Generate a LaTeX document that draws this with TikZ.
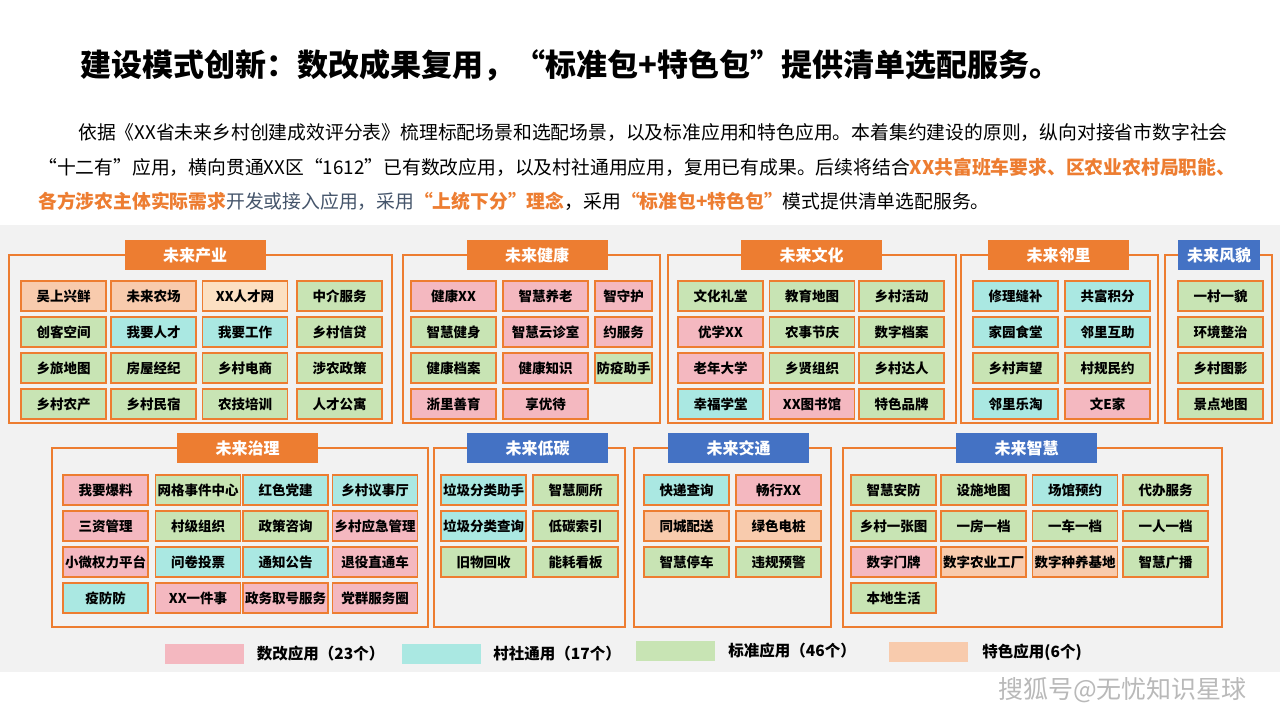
\documentclass[tikz,border=0pt]{standalone}
\usepackage{fontspec}
\setmainfont{Noto Sans CJK SC}
\usepackage{tikz}
\usetikzlibrary{positioning}
\definecolor{brand}{RGB}{237,125,49}
\definecolor{blueh}{RGB}{68,114,196}
\definecolor{reformpink}{RGB}{244,184,192}
\definecolor{sharedcyan}{RGB}{170,232,226}
\definecolor{stdgreen}{RGB}{200,228,180}
\definecolor{featpeach}{RGB}{248,203,173}
\definecolor{featlight}{RGB}{252,224,194}
\definecolor{panel}{RGB}{242,242,242}
\definecolor{slate}{RGB}{68,84,106}
\newcommand{\hot}[1]{\textcolor{brand}{\bfseries #1}}

\begin{document}
\begin{tikzpicture}[
  x=1pt,y=-1pt,
  app/.style={rectangle,draw=brand,line width=1.3pt,minimum width=85pt,minimum height=30pt,
              inner sep=0pt,font=\fontsize{13.5}{14}\selectfont\bfseries},
  slim/.style={minimum width=57pt},
  reform/.style={fill=reformpink},
  shared/.style={fill=sharedcyan},
  standard/.style={fill=stdgreen},
  featured/.style={fill=featpeach},
  head/.style={rectangle,fill=brand,text=white,minimum width=141pt,minimum height=30pt,
               inner sep=0pt,font=\fontsize{16}{18}\selectfont\bfseries},
  headb/.style={head,fill=blueh},
  frame/.style={draw=brand,line width=1.2pt},
  swatch/.style={rectangle,minimum width=79pt,minimum height=20pt,inner sep=0pt},
  keytext/.style={inner sep=0pt,font=\fontsize{15.5}{17}\selectfont\bfseries}
]
\useasboundingbox (0,0) rectangle (1280,720);
\fill[white] (0,0) rectangle (1280,720);
\fill[panel] (0,225) rectangle (1280,672);

% title and lead text
\node[anchor=west,inner sep=0pt,font=\fontsize{31}{34}\selectfont\bfseries] (title) at (80,65)
  {建设模式创新：数改成果复用，“标准包+特色包”提供清单选配服务。};
\node[anchor=west,inner sep=0pt,font=\fontsize{18.8}{22}\selectfont] (par1) at (78,133)
  {依据《XX省未来乡村创建成效评分表》梳理标配场景和选配场景，以及标准应用和特色应用。本着集约建设的原则，纵向对接省市数字社会};
\node[anchor=west,inner sep=0pt,font=\fontsize{18.8}{22}\selectfont] (par2) at (38,167)
  {“十二有”应用，横向贯通XX区“1612”已有数改应用，以及村社通用应用，复用已有成果。后续将结合\hot{XX共富班车要求、区农业农村局职能、}};
\node[anchor=west,inner sep=0pt,font=\fontsize{18.8}{22}\selectfont] (par3) at (38,201)
  {\hot{各方涉农主体实际需求}\textcolor{slate}{开发或接入应用，采用}\hot{“上统下分”理念}，采用\hot{“标准包+特色包”}模式提供清单选配服务。};

% frames
\draw[frame] (9,255) rectangle (392,423);
\draw[frame] (403,255) rectangle (660,423);
\draw[frame] (668,255) rectangle (956,423);
\draw[frame] (961,255) rectangle (1158,423);
\draw[frame] (1165,255) rectangle (1272,423);
\draw[frame] (52,448) rectangle (428,627);
\draw[frame] (434,448) rectangle (625,627);
\draw[frame] (634,448) rectangle (831,627);
\draw[frame] (843,448) rectangle (1222,627);

% headers
\node[head] (cyH) at (195,255) {未来产业};
\node[head] (jkH) at (537,255) {未来健康};
\node[head] (whH) at (811.5,255) {未来文化};
\node[head] (llH) at (1058.5,255) {未来邻里};
\node[headb,minimum width=82pt] (fmH) at (1219,255) {未来风貌};
\node[head] (zlH) at (247.5,448) {未来治理};
\node[headb] (dtH) at (537.5,448) {未来低碳};
\node[headb] (jtH) at (738.5,448) {未来交通};
\node[headb] (zhH) at (1026.5,448) {未来智慧};

% 未来产业
\node[app,featured] (cy11) at (63.5,296) {吴上兴鲜};
\node[app,featured] (cy12) at (153.5,296) {未来农场};
\node[app,fill=featlight] (cy13) at (245,296) {XX人才网};
\node[app,standard] (cy14) at (339.5,296) {中介服务};
\node[app,standard] (cy21) at (63.5,332) {创客空间};
\node[app,shared] (cy22) at (153.5,332) {我要人才};
\node[app,shared] (cy23) at (245,332) {我要工作};
\node[app,standard] (cy24) at (339.5,332) {乡村信贷};
\node[app,standard] (cy31) at (63.5,368) {乡旅地图};
\node[app,standard] (cy32) at (153.5,368) {房屋经纪};
\node[app,standard] (cy33) at (245,368) {乡村电商};
\node[app,standard] (cy34) at (339.5,368) {涉农政策};
\node[app,standard] (cy41) at (63.5,404) {乡村农产};
\node[app,standard] (cy42) at (153.5,404) {乡村民宿};
\node[app,standard] (cy43) at (245,404) {农技培训};
\node[app,standard] (cy44) at (339.5,404) {人才公寓};

% 未来健康
\node[app,reform] (jk11) at (453.5,296) {健康XX};
\node[app,reform] (jk12) at (545.5,296) {智慧养老};
\node[app,reform,slim] (jk13) at (623.5,296) {智守护};
\node[app,standard] (jk21) at (453.5,332) {智慧健身};
\node[app,reform] (jk22) at (545.5,332) {智慧云诊室};
\node[app,reform,slim] (jk23) at (623.5,332) {约服务};
\node[app,standard] (jk31) at (453.5,368) {健康档案};
\node[app,reform] (jk32) at (545.5,368) {健康知识};
\node[app,standard,slim] (jk33) at (623.5,368) {防疫助手};
\node[app,reform] (jk41) at (453.5,404) {浙里善育};
\node[app,reform] (jk42) at (545.5,404) {享优待};

% 未来文化
\node[app,standard] (wh11) at (720.5,296) {文化礼堂};
\node[app,standard] (wh12) at (812,296) {教育地图};
\node[app,standard] (wh13) at (901.5,296) {乡村活动};
\node[app,reform] (wh21) at (720.5,332) {优学XX};
\node[app,standard] (wh22) at (812,332) {农事节庆};
\node[app,standard] (wh23) at (901.5,332) {数字档案};
\node[app,reform] (wh31) at (720.5,368) {老年大学};
\node[app,standard] (wh32) at (812,368) {乡贤组织};
\node[app,standard] (wh33) at (901.5,368) {乡村达人};
\node[app,shared] (wh41) at (720.5,404) {幸福学堂};
\node[app,reform] (wh42) at (812,404) {XX图书馆};
\node[app,standard] (wh43) at (901.5,404) {特色品牌};

% 未来邻里
\node[app,shared] (ll11) at (1015.5,296) {修理缝补};
\node[app,shared] (ll12) at (1107.5,296) {共富积分};
\node[app,shared] (ll21) at (1015.5,332) {家园食堂};
\node[app,shared] (ll22) at (1107.5,332) {邻里互助};
\node[app,standard] (ll31) at (1015.5,368) {乡村声望};
\node[app,standard] (ll32) at (1107.5,368) {村规民约};
\node[app,shared] (ll41) at (1015.5,404) {邻里乐淘};
\node[app,reform] (ll42) at (1107.5,404) {文E家};

% 未来风貌
\node[app,standard] (fm1) at (1220.5,296) {一村一貌};
\node[app,standard] (fm2) at (1220.5,332) {环境整治};
\node[app,standard] (fm3) at (1220.5,368) {乡村图影};
\node[app,standard] (fm4) at (1220.5,404) {景点地图};

% 未来治理
\node[app,reform] (zl11) at (105.5,490) {我要爆料};
\node[app,standard] (zl12) at (198,490) {网格事件中心};
\node[app,shared] (zl13) at (285.5,490) {红色党建};
\node[app,shared] (zl14) at (375,490) {乡村议事厅};
\node[app,reform] (zl21) at (105.5,526) {三资管理};
\node[app,standard] (zl22) at (198,526) {村级组织};
\node[app,standard] (zl23) at (285.5,526) {政策咨询};
\node[app,reform] (zl24) at (375,526) {乡村应急管理};
\node[app,reform] (zl31) at (105.5,562) {小微权力平台};
\node[app,shared] (zl32) at (198,562) {问卷投票};
\node[app,shared] (zl33) at (285.5,562) {通知公告};
\node[app,reform] (zl34) at (375,562) {退役直通车};
\node[app,shared] (zl41) at (105.5,598) {疫防防};
\node[app,reform] (zl42) at (198,598) {XX一件事};
\node[app,reform] (zl43) at (285.5,598) {政务取号服务};
\node[app,reform] (zl44) at (375,598) {党群服务圈};

% 未来低碳
\node[app,shared] (dt11) at (483.5,490) {垃圾分类助手};
\node[app,standard] (dt12) at (575.5,490) {智慧厕所};
\node[app,shared] (dt21) at (483.5,526) {垃圾分类查询};
\node[app,standard] (dt22) at (575.5,526) {低碳索引};
\node[app,standard] (dt31) at (483.5,562) {旧物回收};
\node[app,standard] (dt32) at (575.5,562) {能耗看板};

% 未来交通
\node[app,shared] (jt11) at (686.5,490) {快递查询};
\node[app,reform] (jt12) at (778.5,490) {畅行XX};
\node[app,featured] (jt21) at (686.5,526) {同城配送};
\node[app,featured] (jt22) at (778.5,526) {绿色电桩};
\node[app,standard] (jt31) at (686.5,562) {智慧停车};
\node[app,standard] (jt32) at (778.5,562) {违规预警};

% 未来智慧
\node[app,standard] (zh11) at (893.5,490) {智慧安防};
\node[app,standard] (zh12) at (983.5,490) {设施地图};
\node[app,shared] (zh13) at (1075,490) {场馆预约};
\node[app,standard] (zh14) at (1165.5,490) {代办服务};
\node[app,standard] (zh21) at (893.5,526) {乡村一张图};
\node[app,standard] (zh22) at (983.5,526) {一房一档};
\node[app,standard] (zh23) at (1075,526) {一车一档};
\node[app,standard] (zh24) at (1165.5,526) {一人一档};
\node[app,reform] (zh31) at (893.5,562) {数字门牌};
\node[app,featured] (zh32) at (983.5,562) {数字农业工厂};
\node[app,featured] (zh33) at (1075,562) {数字种养基地};
\node[app,standard] (zh34) at (1165.5,562) {智慧广播};
\node[app,standard] (zh41) at (893.5,598) {本地生活};

% legend
\node[swatch,reform] (lg1) at (204,653.5) {};
\node[keytext,right=13pt of lg1] (lt1) {数改应用（23个）};
\node[swatch,shared] (lg2) at (441.5,653.5) {};
\node[keytext,right=12pt of lg2] (lt2) {村社通用（17个）};
\node[swatch,standard] (lg3) at (675.5,650.5) {};
\node[keytext,right=13pt of lg3] (lt3) {标准应用（46个）};
\node[swatch,featured] (lg4) at (928.5,652) {};
\node[keytext,right=14pt of lg4] (lt4) {特色应用(6个)};

\node[anchor=west,inner sep=0pt,text=gray!55,font=\fontsize{25}{27}\selectfont] (mark) at (998,690) {搜狐号@无忧知识星球};
\end{tikzpicture}
\end{document}
